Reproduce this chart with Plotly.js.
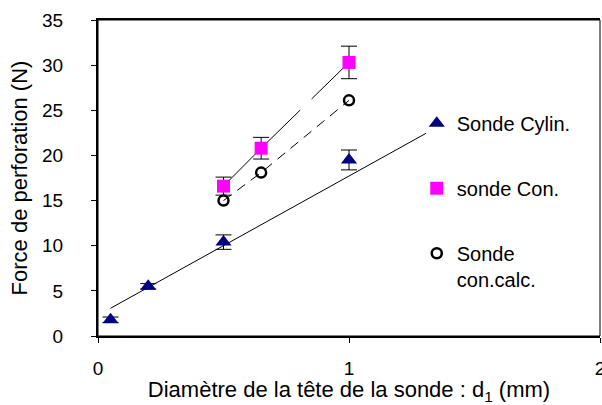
<!DOCTYPE html>
<html>
<head>
<meta charset="utf-8">
<script src="https://cdn.plot.ly/plotly-3.0.1.min.js"></script>
<style>html,body{margin:0;padding:0;background:#fff;}#chart{width:602px;height:405px;}</style>
</head>
<body>
<div id="chart"></div>
<script>
// Sonde cylindrique (measured)
const cylX = [0.05, 0.2, 0.5, 1.0];
const cylY = [1.8, 5.5, 10.4, 19.5];
const cylErr = [0.3, 0.3, 0.8, 1.1];
// Sonde conique (measured)
const conX = [0.5, 0.65, 1.0];
const conY = [16.6, 20.8, 30.3];
const conErr = [1.0, 1.2, 1.8];
// Sonde conique (calculated)
const calcX = [0.5, 0.65, 1.0];
const calcY = [15.0, 18.1, 26.1];
// Trend line of the cylindrical probe (end points)
const trendX = [0.05, 1.307];
const trendY = [3.07, 22.45];

const names = ["Sonde Cylin.", "sonde Con.", "Sonde<br>con.calc."];
const xTicks = [0, 1, 2];
const yTicks = [0, 5, 10, 15, 20, 25, 30, 35];

const FONT = "Liberation Sans, Arial, sans-serif";

const traces = [
  {x: trendX, y: trendY, mode: "lines", line: {color: "#000", width: 1}, showlegend: false, hoverinfo: "skip"},
  {x: conX, y: conY, mode: "lines", line: {color: "#000", width: 1, dash: "108px,16px"}, showlegend: false, hoverinfo: "skip"},
  {x: calcX, y: calcY, mode: "lines", line: {color: "#000", width: 1, dash: "10px,7px"}, showlegend: false, hoverinfo: "skip"},
  {x: cylX, y: cylY, name: names[0], mode: "markers", legendgroup: "a",
   marker: {symbol: "triangle-up", size: 14, color: "#000080"},
   error_y: {type: "data", array: cylErr, visible: true, color: "#000", thickness: 1, width: 8}},
  {x: conX, y: conY, name: names[1], mode: "markers", legendgroup: "b",
   marker: {symbol: "square", size: 13, color: "#FF00FF"},
   error_y: {type: "data", array: conErr, visible: true, color: "#000", thickness: 1, width: 8}},
  {x: calcX, y: calcY, name: names[2], mode: "markers", legendgroup: "c",
   marker: {symbol: "circle-open", size: 10, color: "#000", line: {width: 2.5}}}
];

const layout = {
  width: 602, height: 405,
  margin: {l: 98, r: 2, t: 20, b: 69},
  paper_bgcolor: "#fff", plot_bgcolor: "#fff",
  font: {family: FONT, size: 19, color: "#000"},
  showlegend: true,
  legend: {x: 0.635, y: 0.735, xanchor: "left", yanchor: "top", bgcolor: "rgba(0,0,0,0)",
           font: {family: FONT, size: 20, color: "#000"}, tracegroupgap: 36, traceorder: "grouped",
           itemwidth: 30, valign: "top"},
  xaxis: {range: [0, 2], tickvals: xTicks, ticktext: xTicks.map(String), ticks: "outside", ticklen: 5, tickcolor: "#000",
          showgrid: false, zeroline: false, showline: true, linewidth: 2, linecolor: "#000", mirror: true,
          ticklabelstandoff: 9, ticklabeloverflow: "allow",
          tickfont: {family: FONT, size: 19},
          title: {text: "Diamètre de la tête de la sonde : d<sub>1</sub> (mm)", font: {family: FONT, size: 22}, standoff: 3}},
  yaxis: {range: [0, 35], tickvals: yTicks, ticks: "outside", ticklen: 5, tickcolor: "#000",
          showgrid: false, zeroline: false, showline: true, linewidth: 2, linecolor: "#000",
          ticklabelstandoff: 24, tickfont: {family: FONT, size: 19},
          title: {text: "Force de perforation (N)", font: {family: FONT, size: 22}, standoff: 8}},
  shapes: [{type: "rect", xref: "paper", yref: "paper", x0: 0, x1: 1, y0: 0, y1: 1, line: {color: "#000", width: 1}}]
};

Plotly.newPlot("chart", traces, layout, {displayModeBar: false, staticPlot: true});
</script>
</body>
</html>
